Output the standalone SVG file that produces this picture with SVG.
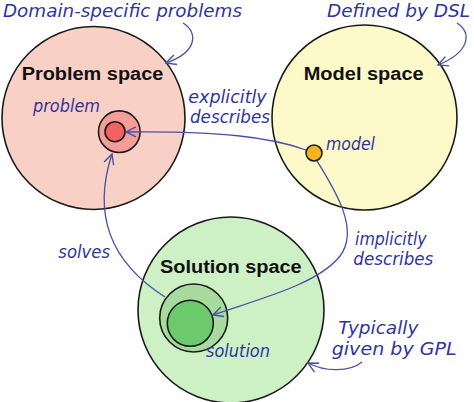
<svg xmlns="http://www.w3.org/2000/svg" width="474" height="402" viewBox="0 0 474 402">
<style>
.space{stroke:#1a1a1a;stroke-width:1.6}
.title{font-family:"Liberation Sans",Arial,sans-serif;font-weight:bold;font-size:17.5px;fill:#111}
.hand{font-family:"DejaVu Sans",sans-serif;font-style:italic;fill:#2f34a0}
.conn{fill:none;stroke:#4a4fa8;stroke-width:1.3}
</style>
<defs>
<marker id="arr" markerUnits="userSpaceOnUse" markerWidth="14" markerHeight="14" refX="11" refY="6" orient="auto">
<path d="M1,1 L11,6 L1,11" fill="none" stroke="#4a4fa8" stroke-width="1.4"/>
</marker>
</defs>
<rect width="474" height="402" fill="#ffffff"/>
<g id="problem-space">
<circle class="space" cx="93.5" cy="118" r="91.5" fill="#f9d0c5"/>
<text class="title" x="21.7" y="80" textLength="141.6" lengthAdjust="spacingAndGlyphs">Problem space</text>
</g>
<g id="model-space">
<circle class="space" cx="364.5" cy="117.5" r="92.5" fill="#fdf9c9"/>
<text class="title" x="303.7" y="80" textLength="120" lengthAdjust="spacingAndGlyphs">Model space</text>
</g>
<g id="solution-space">
<circle class="space" cx="231" cy="310" r="93" fill="#cdf0c5"/>
<text class="title" x="160" y="273" textLength="141.7" lengthAdjust="spacingAndGlyphs">Solution space</text>
</g>
<g id="problem">
<circle class="space" cx="119.3" cy="131.7" r="20.8" fill="#f59d98"/>
<circle class="space" cx="115" cy="131.7" r="10" fill="#f26262"/>
<text class="hand" x="33" y="111.7" font-size="18" textLength="67" lengthAdjust="spacingAndGlyphs">problem</text>
</g>
<g id="model">
<circle class="space" cx="314" cy="153" r="8" fill="#f7b21e"/>
<text class="hand" x="326" y="150" font-size="18" textLength="49" lengthAdjust="spacingAndGlyphs">model</text>
</g>
<g id="solution">
<circle class="space" cx="193.7" cy="318" r="34" fill="#a8dc9e"/>
<circle class="space" cx="190.3" cy="323.3" r="23" fill="#6cc96c"/>
<text class="hand" x="206" y="357" font-size="18" textLength="64" lengthAdjust="spacingAndGlyphs">solution</text>
</g>
<g id="annotations">
<text class="hand" x="3" y="17" font-size="18.5" textLength="239" lengthAdjust="spacingAndGlyphs">Domain-specific problems</text>
<text class="hand" x="327" y="17" font-size="18.5" textLength="143" lengthAdjust="spacingAndGlyphs">Defined by DSL</text>
<text class="hand" x="338.3" y="334" font-size="18.5" textLength="80" lengthAdjust="spacingAndGlyphs">Typically</text>
<text class="hand" x="331.7" y="355" font-size="18.5" textLength="125" lengthAdjust="spacingAndGlyphs">given by GPL</text>
</g>
<g id="connectors">
<path class="conn" d="M306,150 C270,137 220,131 126,132" marker-end="url(#arr)"/>
<text class="hand" x="188.3" y="103.3" font-size="18" textLength="78.4" lengthAdjust="spacingAndGlyphs">explicitly</text>
<text class="hand" x="190" y="123.3" font-size="18" textLength="80" lengthAdjust="spacingAndGlyphs">describes</text>
<path class="conn" d="M317,161 C335,190 360,230 340,256 C318,284 262,298 213,315" marker-end="url(#arr)"/>
<text class="hand" x="355" y="245" font-size="18" textLength="71.7" lengthAdjust="spacingAndGlyphs">implicitly</text>
<text class="hand" x="353.3" y="265" font-size="18" textLength="80" lengthAdjust="spacingAndGlyphs">describes</text>
<path class="conn" d="M165,297 C110,262 92,215 112,154" marker-end="url(#arr)"/>
<text class="hand" x="58.3" y="258" font-size="18" textLength="51.7" lengthAdjust="spacingAndGlyphs">solves</text>
<path class="conn" d="M183,23 C198,32 198,52 166,63" marker-end="url(#arr)"/>
<path class="conn" d="M457,23 C472,33 470,52 438,65" marker-end="url(#arr)"/>
<path class="conn" d="M362,362 C350,372 325,372 308,363" marker-end="url(#arr)"/>
</g>
</svg>
